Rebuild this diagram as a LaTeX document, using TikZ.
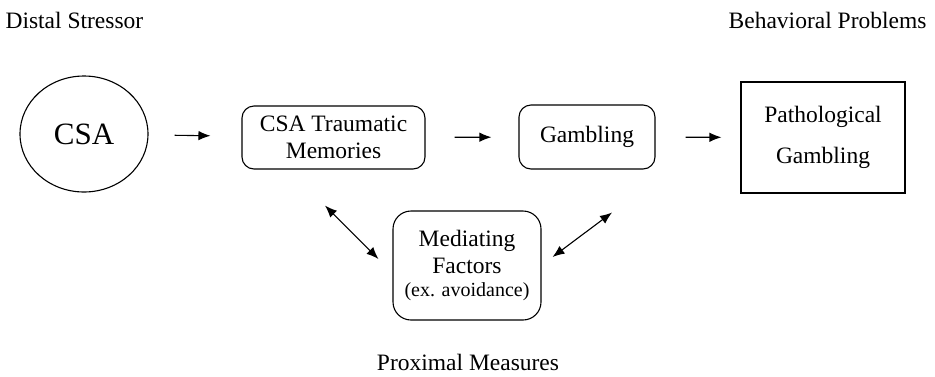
\documentclass[tikz,border=0pt]{standalone}
\usepackage{fontspec}
\setmainfont{Liberation Serif}
\usetikzlibrary{arrows.meta,shapes.geometric}
\begin{document}
\begin{tikzpicture}[x=1pt,y=-1pt,
  line width=1.1pt,
  txt/.style={font=\fontsize{23.5}{27}\selectfont, inner sep=0pt},
  rbox/.style={draw, rounded corners=12pt, align=center, inner sep=0pt,
               font=\fontsize{23.5}{27}\selectfont},
  sbox/.style={draw, align=center, inner sep=0pt,
               font=\fontsize{23.5}{27}\selectfont},
  arr/.style={-{Latex[length=12pt,width=9.5pt]}},
  dbl/.style={{Latex[length=12pt,width=9.5pt]}-{Latex[length=12pt,width=9.5pt]}}
]
\useasboundingbox (0,0) rectangle (935,376);
\node[txt, anchor=west] (distal) at (5,20) {Distal Stressor};
\node[txt, anchor=east] (behav) at (927,20) {Behavioral Problems};
\node[txt] (prox) at (468,362) {Proximal Measures};

\node[draw, ellipse, minimum width=128pt, minimum height=116pt, inner sep=0pt,
      font=\fontsize{31}{36}\selectfont] (csa) at (84,134) {CSA};
\node[rbox, minimum width=183pt, minimum height=63pt] (trauma) at (333.5,137.5)
  {CSA Traumatic\\Memories};
\node[rbox, minimum width=136pt, minimum height=64pt] (gamb) at (587,137) {Gambling};
\node[sbox, minimum width=164pt, minimum height=111pt] (path) at (823,137.5)
  {Pathological\\[14pt]Gambling};
\node[rbox, rounded corners=18pt, minimum width=148pt, minimum height=109pt] (med) at (467,265.5)
  {Mediating\\Factors\\[-4pt]{\fontsize{20}{23}\selectfont (ex. avoidance)}};

\draw[arr, shorten <=26pt, shorten >=31pt] (csa) -- (trauma);
\draw[arr, shorten <=29pt, shorten >=27pt] (trauma) -- (gamb);
\draw[arr, shorten <=30pt, shorten >=19pt] (gamb) -- (path);
\draw[dbl] ([xshift=-8.5pt,yshift=-36pt]trauma.south) -- ([xshift=-14pt,yshift=6.5pt]med.west);
\draw[dbl] ([xshift=11pt,yshift=8.5pt]med.east) -- ([xshift=25pt,yshift=-43pt]gamb.south);
\end{tikzpicture}
\end{document}
